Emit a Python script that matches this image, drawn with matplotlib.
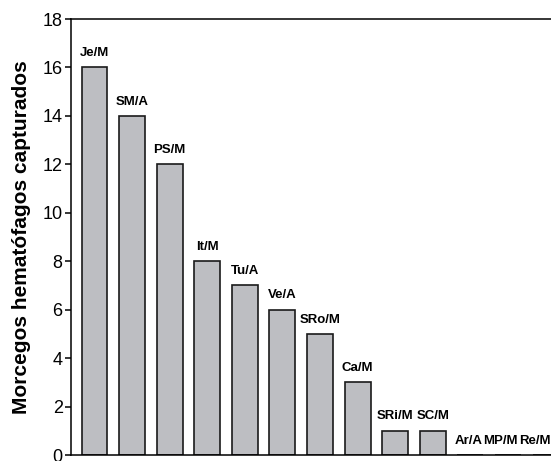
import matplotlib
matplotlib.use("Agg")
import matplotlib.pyplot as plt
import numpy as np

# localities / season, bats captured
sites = ["Je/M", "SM/A", "PS/M", "It/M", "Tu/A", "Ve/A", "SRo/M", "Ca/M",
         "SRi/M", "SC/M", "Ar/A", "MP/M", "Re/M"]
counts = [16, 14, 12, 8, 7, 6, 5, 3, 1, 1, 0, 0, 0]
yticks = [0, 2, 4, 6, 8, 10, 12, 14, 16, 18]

plt.rcParams["font.family"] = ["Liberation Sans", "DejaVu Sans"]

fig = plt.figure(figsize=(5.51, 4.61), dpi=100)
ax = fig.add_axes([71/551, 6/461, 481/551, 436/461])

x = np.arange(len(sites))
ax.bar(x, counts, width=0.69, color="#bdbec2", edgecolor="#1a1a1a", lw=1.2, zorder=2)

# the last labels sit nudged in the original so they fit the frame
nudge = [0]*10 + [-1, -5.5, -7.5]
for xi, c, s, dx in zip(x, counts, sites, nudge):
    ax.annotate(s, (xi, c), xytext=(dx, 6), textcoords="offset points",
                ha="center", va="bottom", fontsize=9.5, fontweight="bold")

ax.set_xlim(-0.625, 12.17)
ax.set_ylim(0, 18)
ax.set_yticks(yticks)
ax.set_xticks([])
ax.tick_params(axis="y", direction="out", length=4, width=1.1, labelsize=13, pad=2)
for sp in ("left", "top", "bottom"):
    ax.spines[sp].set_linewidth(1.1)
ax.spines["right"].set_visible(False)
ax.set_ylabel("Morcegos hematófagos capturados", fontsize=15, fontweight="bold", labelpad=8)

fig.savefig("out.png", dpi=100)
